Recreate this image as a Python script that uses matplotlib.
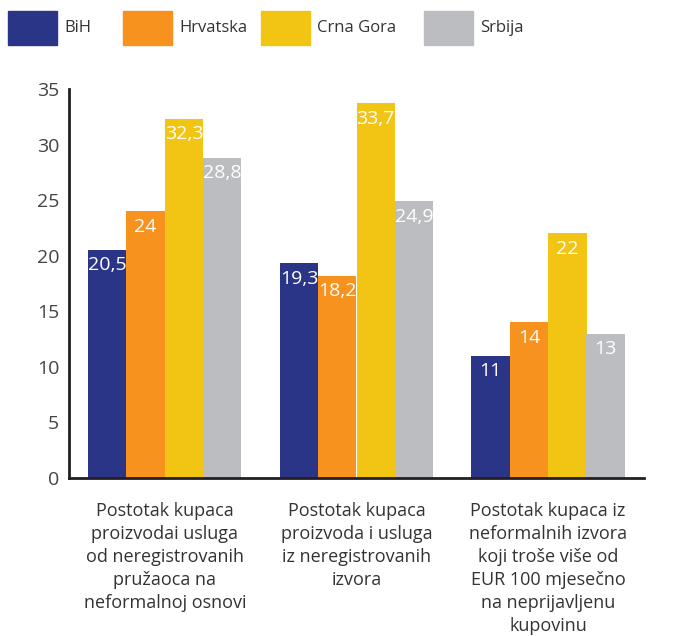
import matplotlib.pyplot as plt
from matplotlib.patches import Rectangle
import numpy as np

plt.rcParams['font.family'] = ['Open Sans', 'DejaVu Sans']

categories = [
    "Postotak kupaca\nproizvodai usluga\nod neregistrovanih\npružaoca na\nneformalnoj osnovi",
    "Postotak kupaca\nproizvoda i usluga\niz neregistrovanih\nizvora",
    "Postotak kupaca iz\nneformalnih izvora\nkoji troše više od\nEUR 100 mjesečno\nna neprijavljenu\nkupovinu",
]
countries = ["BiH", "Hrvatska", "Crna Gora", "Srbija"]
bih = [20.5, 19.3, 11]
hrvatska = [24, 18.2, 14]
crna_gora = [32.3, 33.7, 22]
srbija = [28.8, 24.9, 13]
series = [bih, hrvatska, crna_gora, srbija]
colors = ["#2b3588", "#f7921e", "#f2c413", "#bcbdc0"]

text_col = "#333333"

fig = plt.figure(figsize=(6.82, 6.36), dpi=100)
ax = fig.add_axes([69 / 682, 1 - 478 / 636, (644 - 69) / 682, (478 - 89) / 636])

x = np.arange(len(categories))
w = 0.2
for i, (vals, c) in enumerate(zip(series, colors)):
    pos = x + (i - 1.5) * w
    bars = ax.bar(pos, vals, width=w, color=c, zorder=2)
    for b, v in zip(bars, vals):
        lbl = f"{v:g}".replace(".", ",")
        ax.annotate(lbl, (b.get_x() + b.get_width() / 2, v), xytext=(0, -11),
                    textcoords="offset points", ha="center", va="center",
                    color="white", fontsize=14)

ax.set_xlim(-0.5, 2.5)
ax.set_ylim(0, 35)
ax.set_yticks(range(0, 36, 5))
ax.tick_params(axis="y", length=0, pad=7, labelsize=14, labelcolor="#444444")
ax.set_xticks(x)
ax.set_xticklabels(categories, fontsize=13, color=text_col, linespacing=1.36, va="top")
ax.tick_params(axis="x", length=0, pad=17)

for s in ["top", "right"]:
    ax.spines[s].set_visible(False)
for s in ["left", "bottom"]:
    ax.spines[s].set_linewidth(2)
    ax.spines[s].set_color("#231f20")

# legend drawn by hand to mimic uneven spacing
leg_x = [8, 123, 261, 424]
for lx, name, c in zip(leg_x, countries, colors):
    fig.patches.append(Rectangle((lx / 682, 1 - 45 / 636), 49 / 682, 34 / 636,
                                 transform=fig.transFigure, color=c))
    fig.text((lx + 56) / 682, 1 - 28 / 636, name, fontsize=12, color=text_col,
             va="center", ha="left")

fig.savefig("out.png", dpi=100)
